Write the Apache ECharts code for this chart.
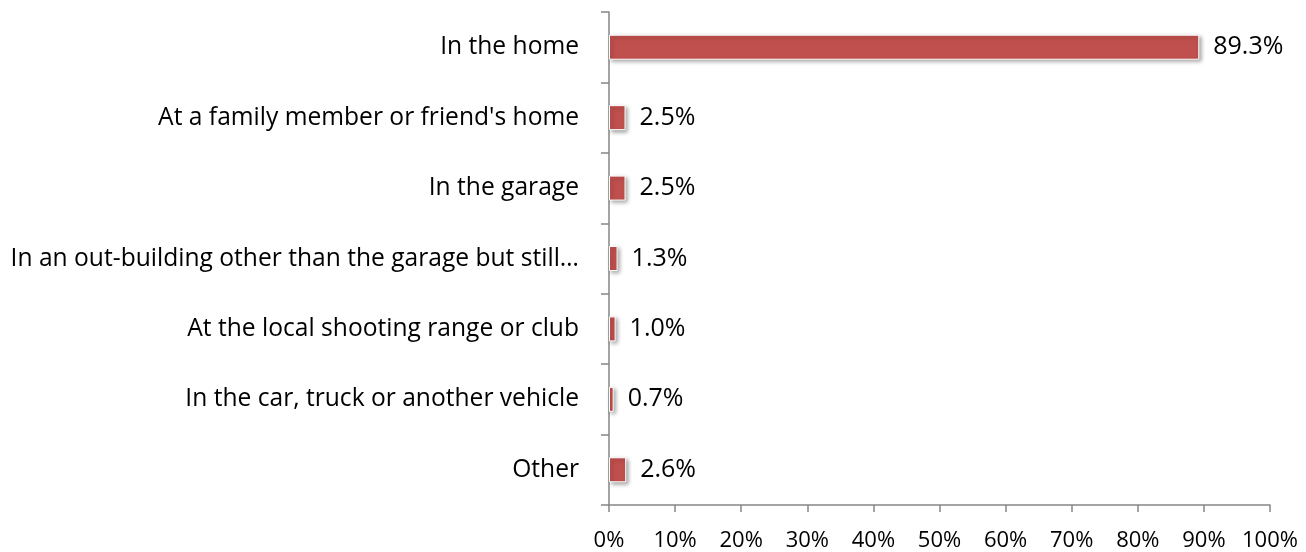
<!DOCTYPE html>
<html>
<head>
<meta charset="utf-8">
<script src="https://cdn.jsdelivr.net/npm/echarts@6/dist/echarts.min.js"></script>
<style>
  html, body { margin: 0; padding: 0; background: #fff; }
  #chart { width: 1306px; height: 552px; }
</style>
</head>
<body>
<div id="chart"></div>
<script>
// Where firearms are kept / used (share of respondents, %)
const categories = [
  "In the home",
  "At a family member or friend's home",
  "In the garage",
  "In an out-building other than the garage but still\u2026",
  "At the local shooting range or club",
  "In the car, truck or another vehicle",
  "Other"
];
const values = [89.3, 2.5, 2.5, 1.3, 1.0, 0.7, 2.6];
const xTicks = [0, 10, 20, 30, 40, 50, 60, 70, 80, 90, 100];

const FONT = "'Open Sans'";
const chart = echarts.init(document.getElementById("chart"), null, { renderer: "canvas" });

chart.setOption({
  animation: false,
  grid: { left: 609, right: 36, top: 12, bottom: 45, containLabel: false },
  xAxis: {
    type: "value",
    min: xTicks[0],
    max: xTicks[xTicks.length - 1],
    interval: 10,
    axisLine: { show: true, lineStyle: { color: "#868686", width: 1.5 } },
    axisTick: { show: true, length: 7, lineStyle: { color: "#868686", width: 1.5 } },
    splitLine: { show: false },
    axisLabel: {
      formatter: v => v + "%",
      color: "#000",
      fontFamily: FONT,
      fontSize: 22,
      margin: 25
    }
  },
  yAxis: {
    type: "category",
    data: categories,
    inverse: true,
    axisLine: { show: true, lineStyle: { color: "#868686", width: 1.5 } },
    axisTick: { show: true, length: 8, lineStyle: { color: "#868686", width: 1.5 } },
    axisLabel: {
      color: "#000",
      fontFamily: FONT,
      fontSize: 24.6,
      margin: 30,
      padding: [5, 0, 0, 0]
    }
  },
  series: [{
    type: "bar",
    data: values,
    barWidth: 25,
    itemStyle: {
      color: "#C0504D",
      borderColor: "#ffffff",
      borderWidth: 1,
      shadowColor: "rgba(0,0,0,0.35)",
      shadowBlur: 4,
      shadowOffsetX: 2,
      shadowOffsetY: 2
    },
    label: {
      show: true,
      position: "right",
      distance: 14,
      formatter: p => p.value.toFixed(1) + "%",
      color: "#000",
      fontFamily: FONT,
      fontSize: 25
    }
  }]
});
</script>
</body>
</html>
